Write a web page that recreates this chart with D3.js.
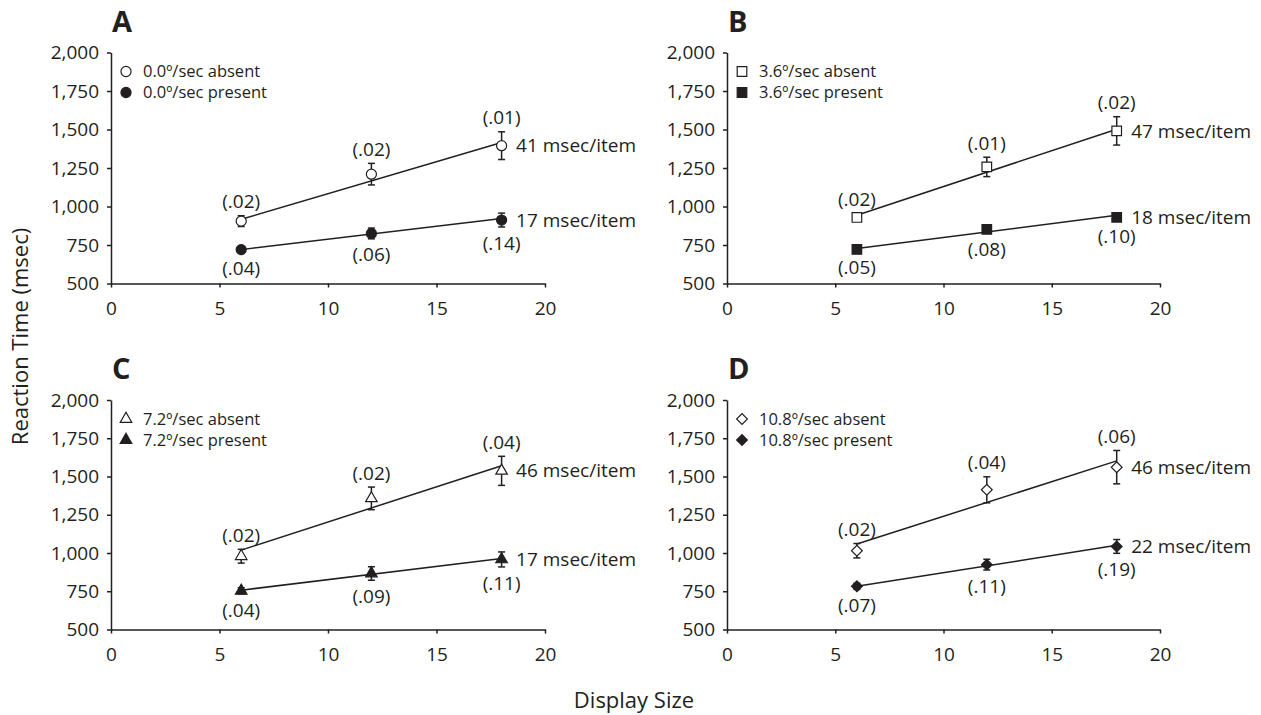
<!DOCTYPE html>
<html>
<head>
<meta charset="utf-8" />
<title>Reaction time by display size</title>
<style>
  body { margin: 0; background: #fff; }
  text { font-family: "Open Sans", sans-serif; fill: #231f20; }
</style>
</head>
<body>
<svg width="1261" height="715"></svg>

<script src="https://cdn.jsdelivr.net/npm/d3@7"></script>
<script>

// data
var displaySizes = [6, 12, 18];
var panelLetters = ['A', 'B', 'C', 'D'];
var speeds = ['0.0', '3.6', '7.2', '10.8'];

var absentRT  = [[905, 1210, 1395], [929, 1257, 1491], [979, 1357, 1537], [1015, 1413, 1561]];
var absentErr = [[35, 70, 90], [25, 63, 92], [45, 74, 95], [47, 85, 109]];
var presentRT  = [[720, 825, 912], [721, 852, 930], [753, 866, 958], [782, 924, 1043]];
var presentErr = [[15, 35, 45], [15, 25, 18], [20, 44, 49], [20, 35, 45]];

// fitted lines, value at display size 6 and 18
var absentFit  = [[917, 1415], [943, 1502], [1019, 1570], [1059, 1602]];
var presentFit = [[720, 922], [727, 943], [757, 964], [782, 1050]];

var absentSlope  = [41, 47, 46, 46];
var presentSlope = [17, 18, 17, 22];

var absentP  = [['.02', '.02', '.01'], ['.02', '.01', '.02'], ['.02', '.02', '.04'], ['.02', '.04', '.06']];
var presentP = [['.04', '.06', '.14'], ['.05', '.08', '.10'], ['.04', '.09', '.11'], ['.07', '.11', '.19']];

var xTicks = [0, 5, 10, 15, 20];
var yTicks = [500, 750, 1000, 1250, 1500, 1750, 2000];

// layout
var ink = '#231f20';
var cols = [{ x0: 111, x1: 545 }, { x0: 727, x1: 1160 }];
var rows = [{ y0: 52.5, y1: 283.5 }, { y0: 400, y1: 629.5 }];
var symbols = [d3.symbolCircle, d3.symbolSquare, d3.symbolTriangle, d3.symbolSquare];
var symbolSizes = [80, 92, 58, 58];
var symbolRotate = [0, 0, 0, 45];

var svg = d3.select('svg');

panelLetters.forEach(function (letter, i) {
    var c = cols[i % 2], r = rows[Math.floor(i / 2)];
    var x = d3.scaleLinear().domain([0, 20]).range([c.x0, c.x1]);
    var y = d3.scaleLinear().domain([500, 2000]).range([r.y1, r.y0]);
    var g = svg.append('g');

    g.append('text')
        .attr('x', c.x0 + 1)
        .attr('y', r.y0 - 21)
        .style('font-size', '29px')
        .style('font-weight', 700)
        .text(letter);

    var xAxis = g.append('g')
        .attr('transform', 'translate(0,' + r.y1 + ')')
        .call(d3.axisBottom(x).tickValues(xTicks).tickSize(4).tickSizeOuter(0).tickPadding(14.5));
    var yAxis = g.append('g')
        .attr('transform', 'translate(' + c.x0 + ',0)')
        .call(d3.axisLeft(y).tickValues(yTicks).tickSize(4).tickSizeOuter(0).tickPadding(8)
            .tickFormat(d3.format(',')));

    [xAxis, yAxis].forEach(function (a) {
        a.selectAll('path, line').attr('stroke', ink).attr('stroke-width', 1.5);
        a.selectAll('text')
            .style('font-family', '"Open Sans", sans-serif')
            .style('font-size', '19px')
            .attr('fill', ink);
    });

    var series = [
        { rt: absentRT[i], err: absentErr[i], fit: absentFit[i], slope: absentSlope[i], p: absentP[i], fill: '#fff', above: true, name: 'absent' },
        { rt: presentRT[i], err: presentErr[i], fit: presentFit[i], slope: presentSlope[i], p: presentP[i], fill: ink, above: false, name: 'present' }
    ];

    var sym = d3.symbol().type(symbols[i]).size(symbolSizes[i]);

    series.forEach(function (s, k) {
        // fit line
        g.append('line')
            .attr('x1', x(displaySizes[0]))
            .attr('x2', x(displaySizes[2]))
            .attr('y1', y(s.fit[0]))
            .attr('y2', y(s.fit[1]))
            .attr('stroke', ink)
            .attr('stroke-width', 1.5);

        var pts = g.selectAll(null)
            .data(displaySizes.map(function (d, j) {
                return { size: d, rt: s.rt[j], err: s.err[j], p: s.p[j] };
            }))
            .enter().append('g');

        // error bars
        pts.append('line')
            .attr('x1', function (d) { return x(d.size); })
            .attr('x2', function (d) { return x(d.size); })
            .attr('y1', function (d) { return y(d.rt - d.err); })
            .attr('y2', function (d) { return y(d.rt + d.err); })
            .attr('stroke', ink).attr('stroke-width', 1.5);
        [-1, 1].forEach(function (sign) {
            pts.append('line')
                .attr('x1', function (d) { return x(d.size) - 3.5; })
                .attr('x2', function (d) { return x(d.size) + 3.5; })
                .attr('y1', function (d) { return y(d.rt + sign * d.err); })
                .attr('y2', function (d) { return y(d.rt + sign * d.err); })
                .attr('stroke', ink).attr('stroke-width', 1.5);
        });

        // markers
        pts.append('path')
            .attr('d', sym)
            .attr('transform', function (d) {
                return 'translate(' + x(d.size) + ',' + y(d.rt) + ') rotate(' + symbolRotate[i] + ')';
            })
            .attr('fill', s.fill)
            .attr('stroke', ink)
            .attr('stroke-width', 1.2);

        // proportion labels
        pts.append('text')
            .attr('x', function (d) { return x(d.size); })
            .attr('y', function (d) {
                return s.above ? y(d.rt + d.err) - 14 : y(d.rt - d.err) + 16;
            })
            .attr('dy', '0.35em')
            .attr('text-anchor', 'middle')
            .style('font-size', '19px')
            .text(function (d) { return '(' + d.p + ')'; });

        // slope label
        g.append('text')
            .attr('x', x(displaySizes[2]) + 14.5)
            .attr('y', y(s.rt[2]))
            .attr('dy', '0.35em')
            .style('font-size', '19px')
            .text(s.slope + ' msec/item');

        // legend
        var ly = r.y0 + 19 + k * 21;
        g.append('path')
            .attr('d', sym)
            .attr('transform', 'translate(' + (c.x0 + 15) + ',' + ly + ') rotate(' + symbolRotate[i] + ')')
            .attr('fill', s.fill)
            .attr('stroke', ink)
            .attr('stroke-width', 1.2);
        g.append('text')
            .attr('x', c.x0 + 32)
            .attr('y', ly)
            .attr('dy', '0.35em')
            .style('font-size', '16.5px')
            .text(speeds[i] + 'º/sec ' + s.name);
    });
});

svg.append('text')
    .attr('transform', 'translate(28,336.5) rotate(-90)')
    .attr('text-anchor', 'middle')
    .style('font-size', '22px')
    .text('Reaction Time (msec)');

svg.append('text')
    .attr('x', 634)
    .attr('y', 708)
    .attr('text-anchor', 'middle')
    .style('font-size', '22px')
    .text('Display Size');

</script>
</body>
</html>
